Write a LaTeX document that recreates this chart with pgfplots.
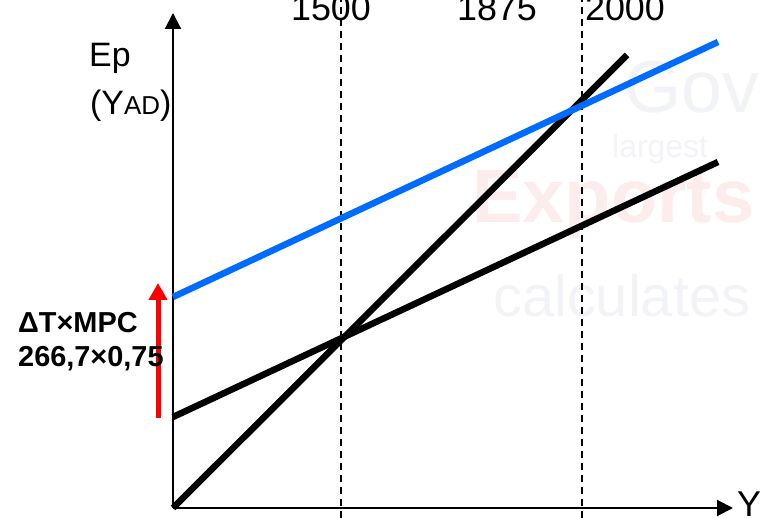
\documentclass[border=0pt]{standalone}
\usepackage{fontspec}
\setmainfont{Liberation Sans}
\usepackage{pgfplots}
\pgfplotsset{compat=1.18}
\usetikzlibrary{arrows.meta}
\definecolor{adblue}{RGB}{0,108,255}
\definecolor{wmpink}{RGB}{252,236,236}
\definecolor{wmgray}{RGB}{242,243,246}
\begin{document}
\begin{tikzpicture}[x=1bp,y=1bp]
\path[use as bounding box] (0,0) rectangle (768,518);
\clip (0,0) rectangle (768,518);
% faint background word cloud
\node[anchor=base west,inner sep=0,text=wmpink] at (472,295) {\fontsize{76}{84}\selectfont\bfseries Exports};
\node[anchor=base west,inner sep=0,text=wmgray] at (493,201) {\fontsize{58}{66}\selectfont calculates};
\node[anchor=base west,inner sep=0,text=wmgray] at (624,405) {\fontsize{74}{80}\selectfont Gov};
\node[anchor=base west,inner sep=0,text=wmgray] at (612,360) {\fontsize{32}{36}\selectfont largest};
\begin{axis}[
  at={(173,10)}, anchor=south west,
  scale only axis, width=560bp, height=495bp,
  xmin=0, xmax=560, ymin=0, ymax=495,
  axis lines=left,
  axis line style={line width=2bp, -{Triangle[width=16bp,length=16bp]}},
  xtick=\empty, ytick=\empty,
  clip=false,
]
% dashed guides
\addplot[black, line width=1.3bp, dash pattern=on 7bp off 5bp] coordinates {(168,-10) (168,508)};
\addplot[black, line width=1.3bp, dash pattern=on 7bp off 5bp] coordinates {(409,-10) (409,508)};
% 45-degree line
\addplot[black, line width=6.5bp] coordinates {(0,0) (454,453)};
% original aggregate demand
\addplot[black, line width=6.5bp] coordinates {(0,91) (545,346)};
% new aggregate demand
\addplot[adblue, line width=6.5bp] coordinates {(0,211) (545,466)};
% shift arrow
\addplot[red, line width=5bp, -{Triangle[width=18bp,length=17bp]}] coordinates {(-15,90) (-15,225)};
% top labels
\node[anchor=base,inner sep=0] at (axis cs:158,487) {\fontsize{36}{40}\selectfont 1500};
\node[anchor=base,inner sep=0] at (axis cs:324,487) {\fontsize{36}{40}\selectfont 1875};
\node[anchor=base,inner sep=0] at (axis cs:452,487) {\fontsize{36}{40}\selectfont 2000};
\end{axis}
\node[anchor=base west,inner sep=0] at (89,451) {\fontsize{34}{40}\selectfont Ep};
\node[anchor=base west,inner sep=0] at (90,403) {\fontsize{34}{40}\selectfont (Y{\fontsize{26}{30}\selectfont AD})};
\node[anchor=base west,inner sep=0] at (737,1) {\fontsize{36}{40}\selectfont Y};
\node[anchor=base west,inner sep=0] at (18,185) {\fontsize{29}{34}\selectfont\bfseries ΔT×MPC};
\node[anchor=base west,inner sep=0] at (18,151) {\fontsize{29}{34}\selectfont\bfseries 266,7×0,75};
\end{tikzpicture}
\end{document}
